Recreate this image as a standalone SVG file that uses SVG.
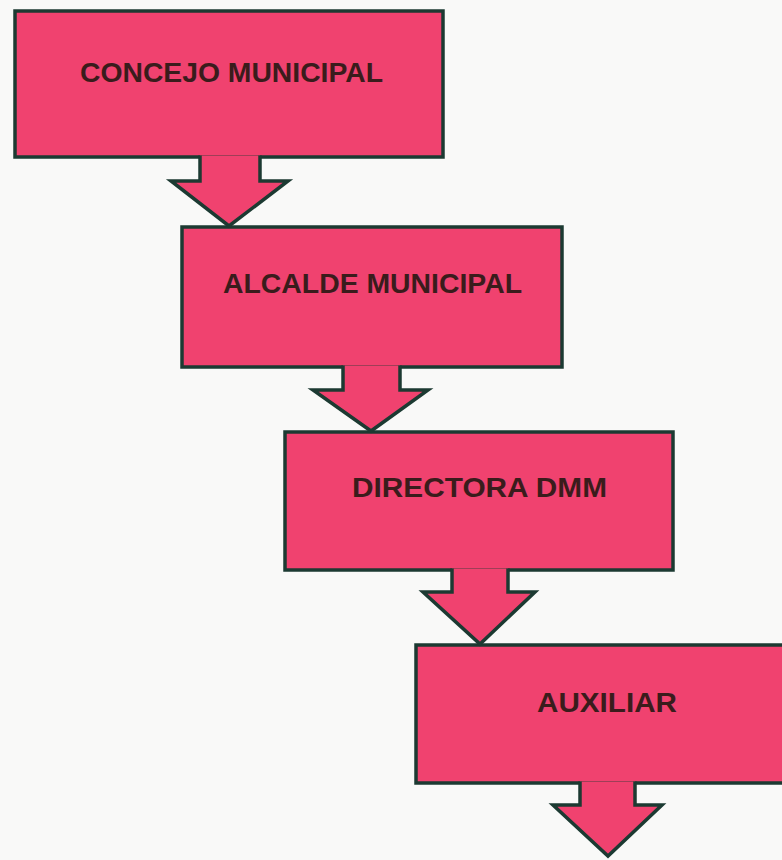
<svg xmlns="http://www.w3.org/2000/svg" width="782" height="860" viewBox="0 0 782 860">
<style>
.box{fill:#f0426f;stroke:#1c3a32;stroke-width:3.5;stroke-linejoin:miter}
.arr{fill:#f0426f;stroke:#1c3a32;stroke-width:3.5;stroke-linejoin:miter}
.lbl{font-family:"Liberation Sans",Arial,sans-serif;font-weight:bold;font-size:27px;fill:#3a1c1c}
</style>
<rect x="0" y="0" width="782" height="860" fill="#f9f9f8"/>
<g id="concejo">
<rect class="box" x="15" y="11" width="428" height="146"/>
<text class="lbl" x="80" y="82" textLength="303" lengthAdjust="spacingAndGlyphs">CONCEJO MUNICIPAL</text>
</g>
<g id="alcalde">
<rect class="box" x="182" y="227" width="380" height="140"/>
<text class="lbl" x="223" y="293" textLength="299" lengthAdjust="spacingAndGlyphs">ALCALDE MUNICIPAL</text>
</g>
<g id="directora">
<rect class="box" x="285" y="432" width="388" height="138"/>
<text class="lbl" x="352" y="497" textLength="255" lengthAdjust="spacingAndGlyphs">DIRECTORA DMM</text>
</g>
<g id="auxiliar">
<rect class="box" x="416" y="645" width="380" height="138"/>
<text class="lbl" x="537" y="712" textLength="140" lengthAdjust="spacingAndGlyphs">AUXILIAR</text>
</g>
<g id="connectors">
<path class="arr" d="M200,155.5 L200,181 L171,181 L229,226 L288,181 L260,181 L260,155.5"/>
<path class="arr" d="M343,365.5 L343,390 L313,390 L371,431 L428,390 L400,390 L400,365.5"/>
<path class="arr" d="M452,568.5 L452,592 L423,592 L480,644 L535,592 L508,592 L508,568.5"/>
<path class="arr" d="M580,781.5 L580,805 L553,805 L608,856 L662,805 L635,805 L635,781.5"/>
</g>
</svg>
